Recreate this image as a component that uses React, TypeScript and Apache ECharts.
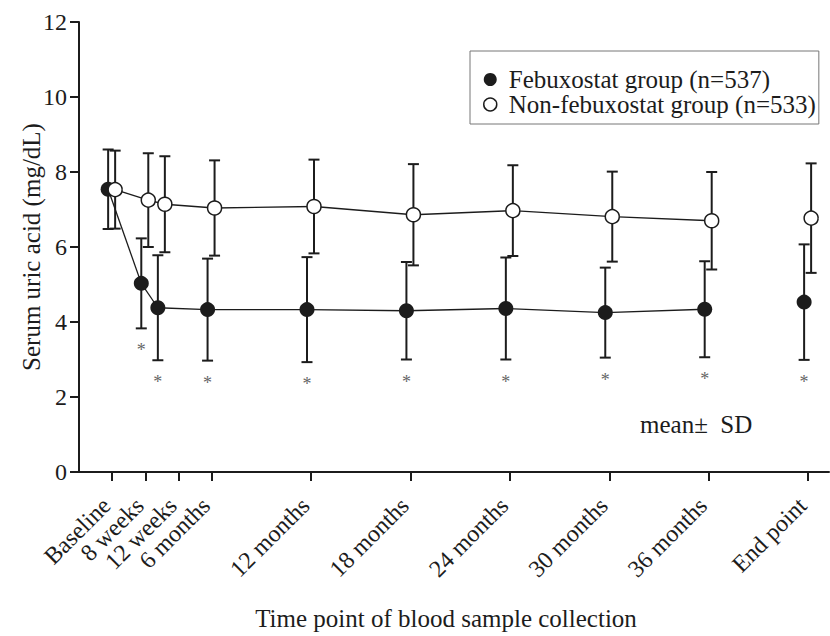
import React, { useEffect, useRef } from "react";
import * as echarts from "echarts";

// ---- data ----
const timeLabels = [
  "Baseline", "8 weeks", "12 weeks", "6 months", "12 months",
  "18 months", "24 months", "30 months", "36 months", "End point",
];
// where each label's tick sits on the month scale
const tickPositions = [0, 2, 4, 6, 12, 18, 24, 30, 36, 42];
// where each time point's values are plotted (months)
const pointTimes = [0, 2, 3, 6, 12, 18, 24, 30, 36, 42];

const febMean = [7.54, 5.03, 4.38, 4.33, 4.33, 4.3, 4.36, 4.25, 4.34, 4.53];
const febSD = [1.06, 1.2, 1.4, 1.36, 1.4, 1.3, 1.36, 1.2, 1.28, 1.54];
const nonMean = [7.53, 7.25, 7.14, 7.04, 7.08, 6.86, 6.97, 6.81, 6.7, 6.77];
const nonSD = [1.04, 1.25, 1.28, 1.27, 1.25, 1.35, 1.21, 1.2, 1.3, 1.46];
// significance marks (*) under the febuxostat group
const febSignificant = [false, true, true, true, true, true, true, true, true, true];
// whether each point is joined by a line to the previous one
const joinedToPrev = [false, true, true, true, true, true, true, true, true, false];

const FEB_NAME = "Febuxostat group (n=537)";
const NON_NAME = "Non-febuxostat group (n=533)";

const FONT = "Liberation Serif";
const INK = "#1c1c1c";

// The closely spaced first labels are split over two overlaid x axes so that
// ECharts' min-label overlap check does not drop any of them.
const secondaryLabelIdx = [1, 3];
const mainLabelValues = tickPositions.filter((_, i) => secondaryLabelIdx.indexOf(i) < 0);
const secondaryLabelValues = secondaryLabelIdx.map((i) => tickPositions[i]);

function makeRender(means: number[], dx: number, filled: boolean, stars: boolean[] | null) {
  return (params: any, api: any) => {
    const i = params.dataIndex;
    const t = api.value(0);
    const m = api.value(1);
    const s = api.value(2);
    const c = api.coord([t, m]);
    const hi = api.coord([t, m + s]);
    const lo = api.coord([t, m - s]);
    const x = c[0] + dx;
    const capHalf = 5.5;
    const barStyle = { stroke: INK, lineWidth: 2 };
    const children: any[] = [
      { type: "line", z2: 1, shape: { x1: x, y1: hi[1], x2: x, y2: lo[1] }, style: barStyle },
      { type: "line", z2: 1, shape: { x1: x - capHalf, y1: hi[1], x2: x + capHalf, y2: hi[1] }, style: barStyle },
      { type: "line", z2: 1, shape: { x1: x - capHalf, y1: lo[1], x2: x + capHalf, y2: lo[1] }, style: barStyle },
    ];
    if (i > 0 && joinedToPrev[i]) {
      const p = api.coord([pointTimes[i - 1], means[i - 1]]);
      children.push({
        type: "line",
        z2: 2,
        shape: { x1: p[0] + dx, y1: p[1], x2: x, y2: c[1] },
        style: { stroke: INK, lineWidth: 1.3 },
      });
    }
    children.push({
      type: "circle",
      z2: filled ? 4 : 5,
      shape: { cx: x, cy: c[1], r: filled ? 7.5 : 7 },
      style: filled ? { fill: INK } : { fill: "#ffffff", stroke: INK, lineWidth: 1.5 },
    });
    if (stars && stars[i]) {
      children.push({
        type: "text",
        z2: 1,
        x: x,
        y: lo[1] + 22,
        style: {
          text: "*",
          fill: "#666666",
          fontSize: 18,
          fontFamily: FONT,
          align: "center",
          verticalAlign: "middle",
        },
      });
    }
    return { type: "group", children };
  };
}

export default function App() {
  const ref = useRef<HTMLDivElement>(null);

  useEffect(() => {
    document.body.style.margin = "0";
    if (!ref.current) return;
    const chart = echarts.init(ref.current, null, { renderer: "svg" });
    const labelOf = (v: number) => {
      const k = tickPositions.indexOf(v);
      return k >= 0 ? timeLabels[k] : "";
    };
    const labelStyle = {
      rotate: 45,
      margin: 24,
      formatter: labelOf,
      fontFamily: FONT,
      fontSize: 24,
      padding: [0, 8, 0, 0],
      color: INK,
    };
    chart.setOption({
      animation: false,
      grid: { left: 79, right: 1, top: 22, bottom: 160, containLabel: false },
      legend: {
        orient: "vertical",
        left: 470,
        top: 51,
        borderColor: "#777777",
        borderWidth: 1,
        padding: [16, 3, 7, 13],
        itemWidth: 27,
        itemHeight: 13,
        itemGap: 0,
        selectedMode: false,
        textStyle: { fontFamily: FONT, fontSize: 25, color: INK, lineHeight: 25 },
        data: [
          { name: FEB_NAME, icon: "circle", itemStyle: { color: INK, borderWidth: 0 } },
          { name: NON_NAME, icon: "circle", itemStyle: { color: "#ffffff", borderColor: INK, borderWidth: 1.5 } },
        ],
      },
      xAxis: [
        {
          type: "value",
          min: -2,
          max: 43.26,
          axisLine: { show: true, onZero: false, lineStyle: { color: INK, width: 2 } },
          axisTick: { show: true, customValues: tickPositions, length: 9, lineStyle: { color: INK, width: 2 } },
          axisLabel: { ...labelStyle, customValues: mainLabelValues, showMinLabel: true, showMaxLabel: true },
          splitLine: { show: false },
          name: "Time point of blood sample collection",
          nameLocation: "middle",
          nameGap: 134,
          nameMoveOverlap: false,
          nameTextStyle: { fontFamily: FONT, fontSize: 25, color: INK, padding: [0, 16, 0, 0] },
        },
        {
          type: "value",
          min: -2,
          max: 43.26,
          position: "bottom",
          offset: 0,
          axisLine: { show: false, onZero: false },
          axisTick: { show: false },
          axisLabel: { ...labelStyle, customValues: secondaryLabelValues, showMinLabel: true, showMaxLabel: true },
          splitLine: { show: false },
        },
      ],
      yAxis: {
        type: "value",
        min: 0,
        max: 12,
        interval: 2,
        axisLine: { show: true, onZero: false, lineStyle: { color: INK, width: 2 } },
        axisTick: { show: true, length: 9, lineStyle: { color: INK, width: 2 } },
        axisLabel: { margin: 12, fontFamily: FONT, fontSize: 24, color: INK },
        splitLine: { show: false },
        name: "Serum uric acid (mg/dL)",
        nameLocation: "middle",
        nameGap: 35,
        nameMoveOverlap: false,
        nameTextStyle: { fontFamily: FONT, fontSize: 25, color: INK },
      },
      graphic: [
        {
          type: "text",
          left: 640,
          top: 412,
          style: { text: "mean\u00b1  SD", fontFamily: FONT, fontSize: 25, fill: INK },
        },
      ],
      series: [
        {
          name: FEB_NAME,
          type: "custom",
          xAxisIndex: 0,
          renderItem: makeRender(febMean, -4, true, febSignificant),
          itemStyle: { color: INK },
          encode: { x: 0, y: 1 },
          data: pointTimes.map((t, i) => [t, febMean[i], febSD[i]]),
        },
        {
          name: NON_NAME,
          type: "custom",
          xAxisIndex: 0,
          renderItem: makeRender(nonMean, 3, false, null),
          itemStyle: { color: "#ffffff", borderColor: INK },
          encode: { x: 0, y: 1 },
          data: pointTimes.map((t, i) => [t, nonMean[i], nonSD[i]]),
        },
      ],
    });
    return () => chart.dispose();
  }, []);

  return <div ref={ref} style={{ width: 830, height: 636 }} />;
}
